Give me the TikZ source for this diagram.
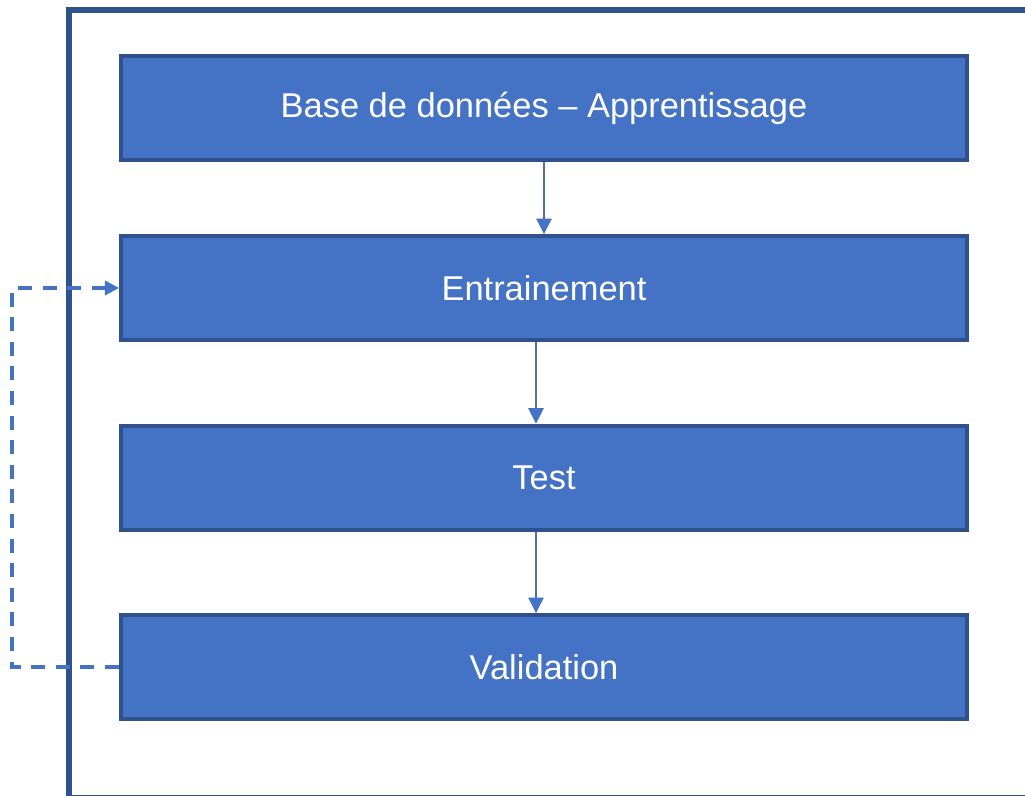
\documentclass[tikz,border=0pt]{standalone}
\usepackage{fontspec}
\setmainfont{Liberation Sans}
\usepackage{tikz}
\usetikzlibrary{arrows.meta,calc}
\definecolor{boxblue}{RGB}{68,114,196}
\definecolor{boxedge}{RGB}{47,82,143}
\definecolor{linkgray}{RGB}{90,110,150}

\begin{document}
\begin{tikzpicture}[
  every node/.style={font=\fontsize{24.5}{29}\selectfont},
  stepbox/.style={rectangle, draw=boxedge, fill=boxblue, line width=2.8pt,
      minimum width=21.15cm, minimum height=2.6cm, text=white, text centered},
  link/.style={draw=linkgray!70!boxblue, line width=0.9pt,
      -{Triangle[width=11pt,length=11pt,fill=boxblue,color=boxblue]}},
  backloop/.style={draw=boxblue, line width=2.4pt, dash pattern=on 10pt off 7.5pt,
      -{Triangle[width=10pt,length=10pt]}}
]
\useasboundingbox (0,0) rectangle (25.625,19.9);
% cadre
\draw[boxedge, line width=3.6pt] (1.725,-0.05) rectangle (25.8,19.65);

% etapes
\node[stepbox] (base) at (13.6,17.2) {Base de données -- Apprentissage};
\node[stepbox] (entr) at (13.6,12.7) {Entrainement};
\node[stepbox] (test) at (13.6,7.96) {Test};
\node[stepbox] (valid) at (13.6,3.225) {Validation};

% liens
\draw[link] (base.south) -- (entr.north);
\draw[link] ($(entr.south)+(-0.2,0)$) -- ($(test.north)+(-0.2,0)$);
\draw[link] ($(test.south)+(-0.2,0)$) -- ($(valid.north)+(-0.2,0)$);

% retour validation -> entrainement
\coordinate (bend) at (0.3,0);
\draw[backloop] (valid.west) -- (valid.west -| bend) |- (entr.west);
\end{tikzpicture}
\end{document}
